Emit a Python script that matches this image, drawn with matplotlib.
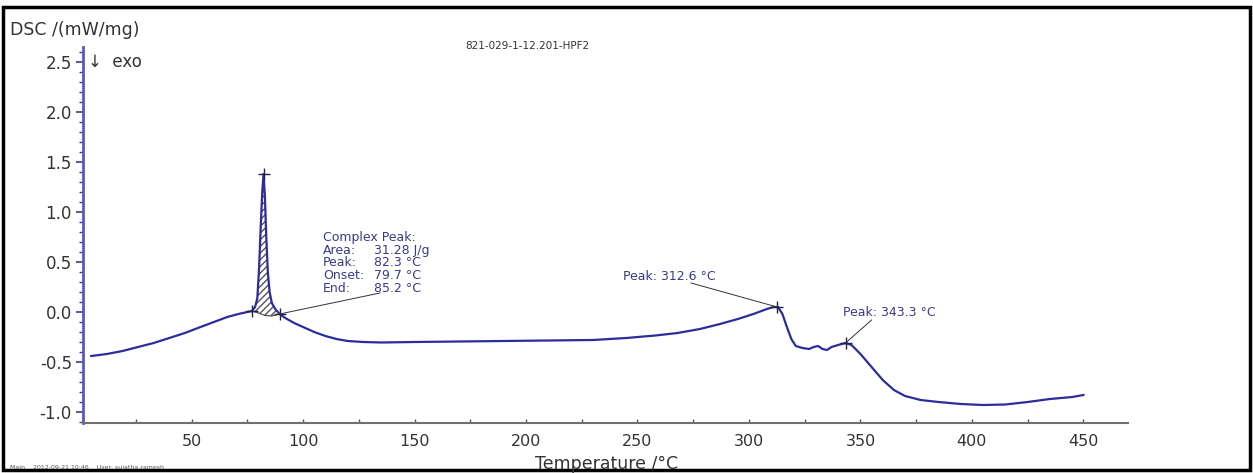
import matplotlib.pyplot as plt
from matplotlib.patches import Rectangle

plt.rcParams['font.family'] = ['DejaVu Sans']

# DSC curve (temperature in degC, signal in mW/mg)
temp = [5, 12, 19, 26, 33, 40, 47, 54, 60, 66, 71, 75, 77, 78.5, 79.5, 80.3, 81.0, 81.7,
        82.3, 82.9, 83.5, 84.2, 85.0, 86.0, 87.5, 89.5, 92, 96, 100, 105, 110, 115, 120,
        127, 135, 150, 170, 190, 210, 230, 245, 258, 268, 278, 287, 295, 302, 308, 311,
        313, 315, 317, 319, 321, 324, 327, 329, 331, 333, 335, 337, 340, 343.3, 346, 350,
        355, 360, 365, 370, 377, 385, 395, 405, 415, 425, 435, 445, 450]
dsc = [-0.44, -0.42, -0.39, -0.35, -0.31, -0.26, -0.21, -0.15, -0.10, -0.05, -0.02, 0.00,
       0.01, 0.05, 0.14, 0.45, 0.85, 1.20, 1.38, 1.15, 0.75, 0.40, 0.20, 0.09, 0.03, -0.02,
       -0.06, -0.11, -0.15, -0.20, -0.24, -0.27, -0.29, -0.30, -0.305, -0.30, -0.295,
       -0.29, -0.285, -0.28, -0.26, -0.235, -0.21, -0.17, -0.12, -0.07, -0.02, 0.03, 0.05,
       0.05, -0.02, -0.15, -0.27, -0.34, -0.36, -0.37, -0.35, -0.34, -0.37, -0.38, -0.35,
       -0.33, -0.31, -0.33, -0.42, -0.55, -0.68, -0.78, -0.84, -0.88, -0.90, -0.92, -0.93,
       -0.925, -0.90, -0.87, -0.85, -0.83]

# baseline under the complex peak
base_t = [77, 80, 83, 86, 89.5]
base_v = [0.01, -0.01, -0.035, -0.04, -0.02]

# marked points: onset, peak, end, second peak, third peak
mark_t = [77, 82.3, 89.5, 312.6, 343.3]
mark_v = [0.01, 1.38, -0.02, 0.05, -0.31]

complex_labels = ["Complex Peak:", "Area:", "Peak:", "Onset:", "End:"]
complex_values = ["", "31.28 J/g", "82.3 °C", "79.7 °C", "85.2 °C"]

x_major = [50, 100, 150, 200, 250, 300, 350, 400, 450]
y_major = [-1.0, -0.5, 0.0, 0.5, 1.0, 1.5, 2.0, 2.5]

W, H = 1253, 473
fig = plt.figure(figsize=(W / 100, H / 100), dpi=100)
ax = fig.add_axes([83 / W, 1 - 423 / H, (1128 - 83) / W, (423 - 47) / H])

line_col = '#2c2c9c'
txt_col = '#3a3a86'

ax.plot(temp, dsc, color=line_col, lw=1.6)

# hatched area of the complex peak
peak_t = [t for t in temp if 77 <= t <= 89.5]
peak_v = [v for t, v in zip(temp, dsc) if 77 <= t <= 89.5]
ax.fill(peak_t + base_t[::-1], peak_v + base_v[::-1], facecolor='none',
        edgecolor='#555555', hatch='/////', lw=0)
ax.plot(base_t, base_v, color='#444444', lw=0.8)

ax.plot(mark_t, mark_v, '+', color='#222244', ms=8, mew=1)

# annotations, one row at a time
for i, (lab, val) in enumerate(zip(complex_labels, complex_values)):
    y = 0.74 - 0.125 * i
    ax.text(109, y, lab, color=txt_col, fontsize=9, va='center', ha='left')
    if val:
        ax.text(132, y, val, color=txt_col, fontsize=9, va='center', ha='left')
ax.plot([89.5, 134.5], [-0.02, 0.19], color='#333333', lw=0.7)

ax.text(243.5, 0.35, 'Peak: 312.6 °C', color=txt_col, fontsize=9, va='center')
ax.plot([274, 312.6], [0.29, 0.05], color='#333333', lw=0.7)

ax.text(342, -0.01, 'Peak: 343.3 °C', color=txt_col, fontsize=9, va='center')
ax.plot([355, 343.3], [-0.08, -0.31], color='#333333', lw=0.7)

ax.set_xlim(1.3, 470)
ax.set_ylim(-1.11, 2.65)

ax.set_xticks(x_major)
ax.set_xticks([25, 75, 125, 175, 225, 275, 325, 375, 425], minor=True)
ax.set_yticks(y_major)
ax.set_yticks([i / 10 for i in range(-11, 27)], minor=True)
ax.set_yticklabels(['%.1f' % v for v in y_major])

for s in ['top', 'right']:
    ax.spines[s].set_visible(False)
ax.spines['left'].set_color('#5a5ac0')
ax.spines['left'].set_linewidth(2)
ax.spines['bottom'].set_color('#707070')
ax.spines['bottom'].set_linewidth(1.5)

ax.tick_params(axis='y', which='major', direction='out', length=5, width=1.2,
               color='#3a3a90', labelsize=12, labelcolor='#333333', pad=3)
ax.tick_params(axis='y', which='minor', direction='out', length=3, width=1,
               color='#3a3a90')
ax.tick_params(axis='x', which='both', direction='in', length=3, width=1,
               color='#555555', labelsize=11.5, labelcolor='#333333', pad=8)

# figure texts
fig.text(10 / W, 1 - 30 / H, 'DSC /(mW/mg)', fontsize=12.5, color='#333333', va='center')
fig.text(88 / W, 1 - 62 / H, '↓  exo', fontsize=12, color='#333333', va='center')
fig.text(527 / W, 1 - 46 / H, '821-029-1-12.201-HPF2', fontsize=7.5, color='#333333',
         ha='center', va='center')
fig.text(607 / W, 1 - 464 / H, 'Temperature /°C', fontsize=12.5, color='#333333',
         ha='center', va='center')
fig.text(10 / W, 1 - 467 / H, 'Main    2012-09-21 10:46    User: sujatha.ramesh',
         fontsize=4.5, color='#555555', va='center')

# outer frame
fig.patches.append(Rectangle((3 / W, 3 / H), (W - 6) / W, (H - 10) / H,
                             transform=fig.transFigure, fill=False, ec='black', lw=2.5))

fig.savefig('out.png', dpi=100)
